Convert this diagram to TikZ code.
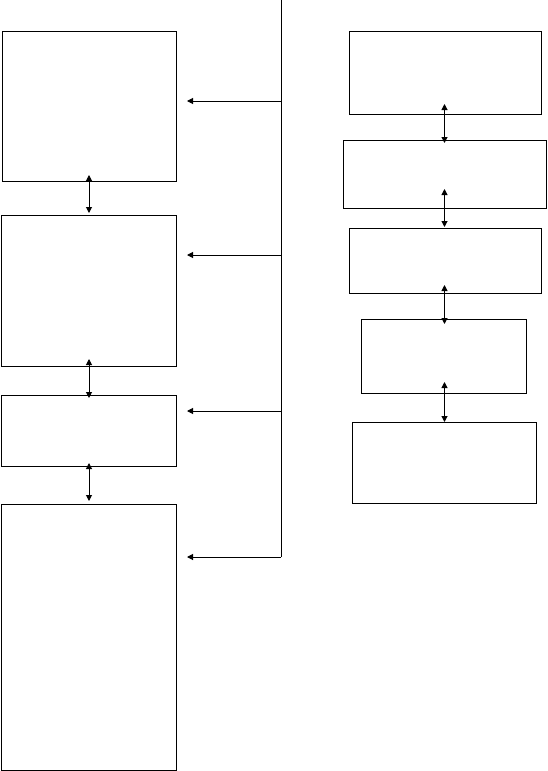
\documentclass[tikz,border=0pt]{standalone}
\usepackage{tikz}
\usetikzlibrary{positioning,arrows.meta,calc}
\tikzset{
  blockbox/.style={draw, line width=1pt, anchor=north west, inner sep=0pt, fill=white},
  linkarrow/.style={{Triangle[length=6pt,width=6pt]}-{Triangle[length=6pt,width=6pt]}, line width=1pt},
  busarrow/.style={-{Triangle[length=6pt,width=6pt]}, line width=1pt},
}
\begin{document}
\begin{tikzpicture}[x=1pt, y=-1pt]
  \useasboundingbox (0,0) rectangle (547,771);
  % left column
  \node[blockbox, minimum width=174pt, minimum height=150pt] (l1) at (2,31) {};
  \node[blockbox, minimum width=175pt, minimum height=151pt] (l2) at (1,215) {};
  \node[blockbox, minimum width=175pt, minimum height=71pt] (l3) at (1,395) {};
  \node[blockbox, minimum width=175pt, minimum height=266pt] (l4) at (1,504) {};
  % right column
  \node[blockbox, minimum width=192pt, minimum height=83pt] (r1) at (349,31) {};
  \node[blockbox, minimum width=203pt, minimum height=68pt] (r2) at (343,140) {};
  \node[blockbox, minimum width=192pt, minimum height=65pt] (r3) at (349,228) {};
  \node[blockbox, minimum width=165pt, minimum height=74pt] (r4) at (361,319) {};
  \node[blockbox, minimum width=184pt, minimum height=81pt] (r5) at (352,422) {};
  % bus
  \coordinate (bustop) at (281,0);
  \coordinate (tap1) at (281,101);
  \coordinate (tap2) at (281,255);
  \coordinate (tap3) at (281,411);
  \coordinate (tap4) at (281,557);
  \draw[line width=1pt] (bustop) -- (tap4);
  \draw[busarrow] (tap1) -- ([xshift=10pt]tap1 -| l1.east);
  \draw[busarrow] (tap2) -- ([xshift=10pt]tap2 -| l2.east);
  \draw[busarrow] (tap3) -- ([xshift=10pt]tap3 -| l3.east);
  \draw[busarrow] (tap4) -- ([xshift=10pt]tap4 -| l4.east);
  % links between blocks
  \draw[linkarrow] ([yshift=7pt]l2.north |- l1.south) -- ([yshift=2pt]l2.north);
  \draw[linkarrow] ([yshift=8pt]l2.south) -- ([yshift=-3pt]l2.south |- l3.north);
  \draw[linkarrow] ([yshift=4pt]l3.south) -- ([yshift=3pt]l3.south |- l4.north);
  \draw[linkarrow] ([yshift=11pt]r5.north |- r1.south) -- ([yshift=-3pt]r5.north |- r2.north);
  \draw[linkarrow] ([yshift=20pt]r5.north |- r2.south) -- ([yshift=1pt]r5.north |- r3.north);
  \draw[linkarrow] ([yshift=9pt]r5.north |- r3.south) -- ([yshift=-5pt]r5.north |- r4.north);
  \draw[linkarrow] ([yshift=12pt]r5.north |- r4.south) -- (r5.north);
\end{tikzpicture}
\end{document}
